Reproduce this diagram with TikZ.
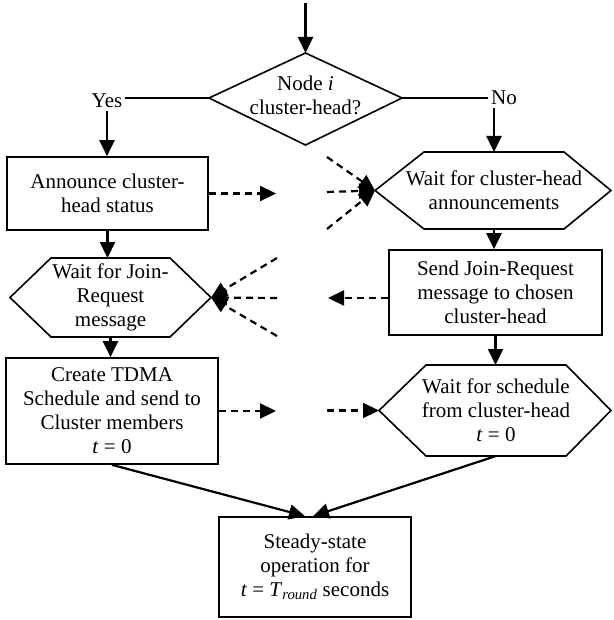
\documentclass[tikz,border=0pt]{standalone}
\usepackage{fontspec}
\setmainfont{Liberation Serif}
\usetikzlibrary{arrows.meta}

\tikzset{
  box/.style={draw, line width=1.7pt, align=center, inner sep=0pt},
  txt/.style={align=center, inner sep=0pt},
  frame/.style={line width=1.6pt},
  arr/.style={line width=2.2pt, -{Triangle[length=16pt,width=15pt]}},
  msg/.style={arr, dash pattern=on 7pt off 5pt},
}

\begin{document}
\begin{tikzpicture}[x=1pt, y=-1pt, font=\fontsize{21}{24}\selectfont]
		\useasboundingbox (0,0) rectangle (613,620);
		
		% decision
		\coordinate (start) at (305.5,3);
		\node[txt] (dm) at (305.5,95) {Node \textit{i}\\cluster-head?};
		\draw[frame] (dm) ++(0,-42) coordinate (dmN) -- ++(96.5,45) coordinate (dmE)
			-- ++(-96.5,47) coordinate (dmS) -- ++(-96.5,-47) coordinate (dmW) -- cycle;
		\node[inner sep=3pt] (yes) at (107,101) {Yes};
		\node[inner sep=3pt] (no) at (504,98) {No};
		
		% cluster-head side
		\node[box, minimum width=201pt, minimum height=73pt] (bA) at (107.5,193.5) {Announce cluster-\\head status};
		\node[txt] (hB) at (110.5,297.5) {Wait for Join-\\Request\\message};
		\draw[frame] (hB) ++(-59.5,-39.5) -- ++(59.5,0) coordinate (hBn) -- ++(59.5,0)
			-- ++(41,39.5) coordinate (hBe) -- ++(-41,39.5) -- ++(-59.5,0) coordinate (hBs)
			-- ++(-59.5,0) -- ++(-41,-39.5) coordinate (hBw) -- cycle;
		\node[box, minimum width=212pt, minimum height=106pt] (bC) at (112,411) {Create TDMA\\Schedule and send to\\Cluster members\\\textit{t} = 0};
		
		% member side
		\node[txt] (hA) at (494,190.5) {Wait for cluster-head\\announcements};
		\draw[frame] (hA) ++(-70,-38.5) -- ++(70,0) coordinate (hAn) -- ++(70,0)
			-- ++(47,38.5) coordinate (hAe) -- ++(-47,38.5) -- ++(-70,0) coordinate (hAs)
			-- ++(-70,0) -- ++(-49,-38.5) coordinate (hAw) -- cycle;
		\node[box, minimum width=213pt, minimum height=85pt] (bB) at (495.5,292.5) {Send Join-Request\\message to chosen\\cluster-head};
		\node[txt] (hC) at (496,410.5) {Wait for schedule\\from cluster-head\\\textit{t} = 0};
		\draw[frame] (hC) ++(-70,-45.5) -- ++(70,0) coordinate (hCn) -- ++(70,0)
			-- ++(45,45.5) coordinate (hCe) -- ++(-45,45.5) -- ++(-70,0) coordinate (hCs)
			-- ++(-70,0) -- ++(-47,-45.5) coordinate (hCw) -- cycle;
		
		\node[box, minimum width=192pt, minimum height=100pt] (bD) at (315,567) {Steady-state\\operation for\\\textit{t} = \textit{T}\textsubscript{\textit{round}} seconds};
		
		% flow
		\draw[arr] (start) -- (dmN);
		\draw[frame] (dmW) -- (dmW -| yes.east);
		\draw[frame] (dmE) -- (dmE -| no.west);
		\draw[arr] (yes.south) -- (yes.south |- bA.north);
		\draw[arr] (no.south -| hAn) -- (hAn);
		\draw[arr] (bA.south) -- (bA.south |- hBn);
		\draw[arr] (hBs) -- (hBs |- bC.north);
		\draw[arr] (hAs) -- (hAs |- bB.north);
		\draw[arr] (bB.south) -- (bB.south |- hCn);
		\draw[arr] (bC.south) -- ([xshift=-10pt]bD.north);
		\draw[arr] (hCs) -- ([xshift=-2pt]bD.north);
		
		% messages
		\coordinate (aOut) at (276,193.5);
		\draw[msg] (bA.east) -- (aOut);
		\foreach \n/\y in {a/157,b/192,c/229}{
			\coordinate (fA\n) at (327,\y);
			\draw[msg] (fA\n) -- (hAw);
		}
		\coordinate (bOut) at (328,298);
		\draw[msg] (bB.west |- bOut) -- (bOut);
		\foreach \n/\y in {a/258,b/298,c/336}{
			\coordinate (fB\n) at (277,\y);
			\draw[msg] (fB\n) -- (hBe);
		}
		\coordinate (cOut) at (276,411);
		\draw[msg] (bC.east) -- (cOut);
		\coordinate (cIn) at (327,410.5);
		\draw[msg] (cIn) -- (hCw);
	\end{tikzpicture}
\end{document}
